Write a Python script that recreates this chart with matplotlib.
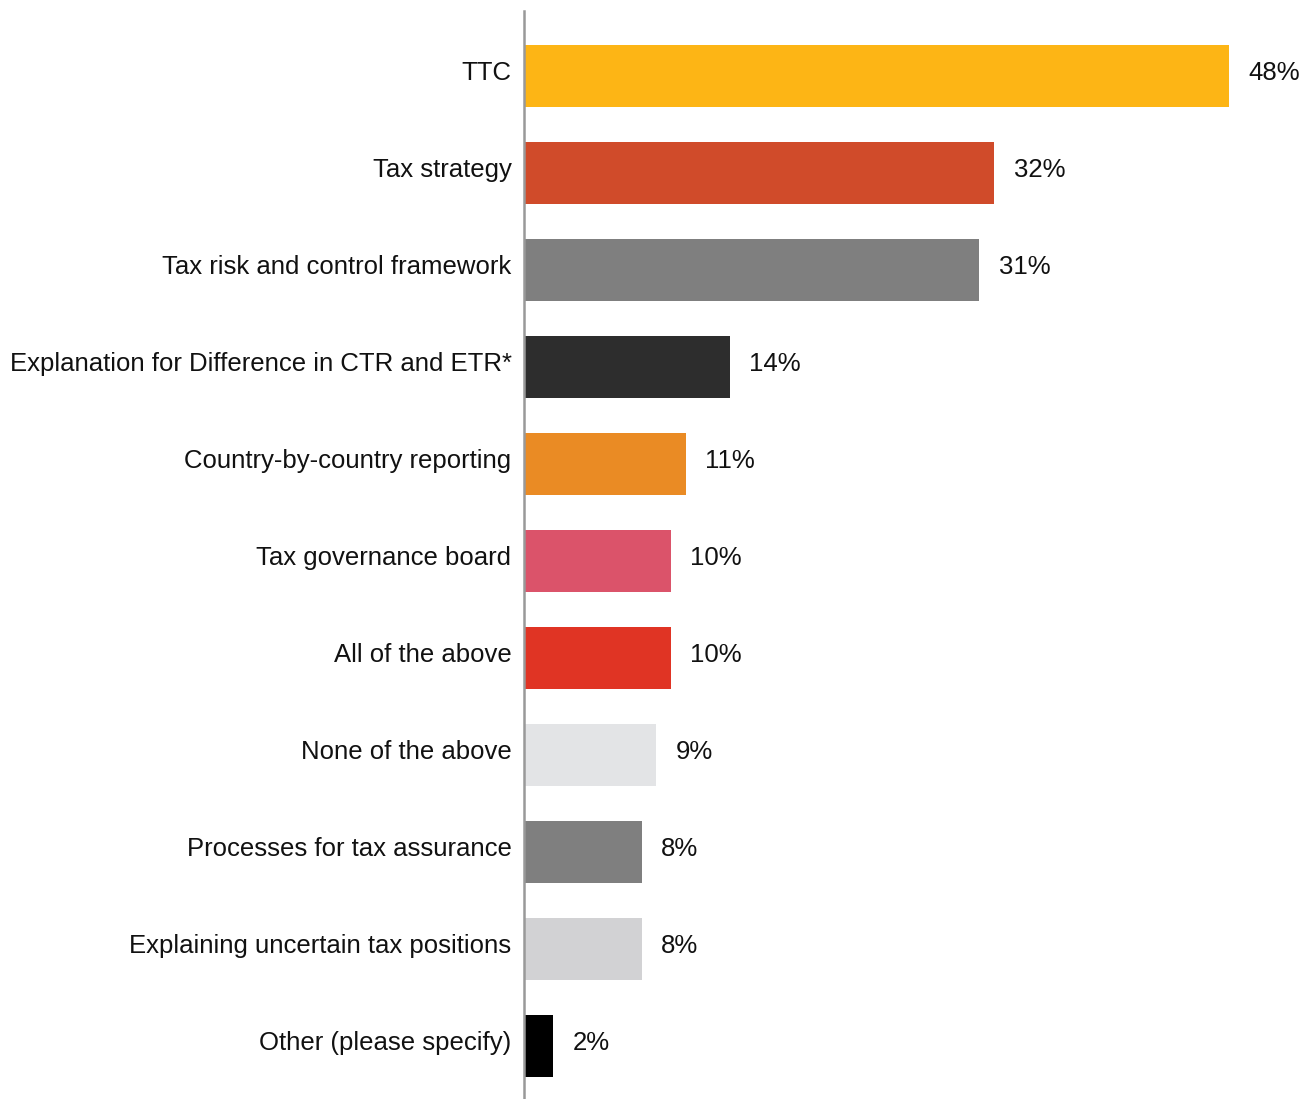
import matplotlib.pyplot as plt

categories = [
    "TTC",
    "Tax strategy",
    "Tax risk and control framework",
    "Explanation for Difference in CTR and ETR*",
    "Country-by-country reporting",
    "Tax governance board",
    "All of the above",
    "None of the above",
    "Processes for tax assurance",
    "Explaining uncertain tax positions",
    "Other (please specify)",
]
values = [48, 32, 31, 14, 11, 10, 10, 9, 8, 8, 2]
colors = [
    "#FDB515", "#D04B2A", "#7F7F7F", "#2D2D2D", "#EA8B24", "#DB536A",
    "#E03424", "#E3E4E6", "#7F7F7F", "#D2D2D4", "#000000",
]

plt.rcParams["font.family"] = ["Liberation Sans", "DejaVu Sans"]

fig = plt.figure(figsize=(13.16, 10.99), dpi=100)
# axes spans from the vertical baseline to the right edge of the longest bar
ax = fig.add_axes([524 / 1316, 0, 734.5 / 1316, 1088 / 1099])

y = list(range(len(categories)))
ax.barh(y, values, height=0.64, color=colors)

ax.set_xlim(0, 50)
ax.set_ylim(10.55, -0.67)

for yi, (cat, v) in enumerate(zip(categories, values)):
    ax.annotate(f"{v}%", (v, yi), xytext=(14, 2), textcoords="offset points",
                va="center", ha="left", fontsize=18.5, color="#111111")
    ax.annotate(cat, (0, yi), xytext=(-9, 2), textcoords="offset points",
                va="center", ha="right", fontsize=18.5, color="#111111")

for side in ["top", "right", "bottom"]:
    ax.spines[side].set_visible(False)
ax.spines["left"].set_color("#999999")
ax.spines["left"].set_linewidth(1.8)
ax.set_xticks([])
ax.set_yticks([])

fig.savefig("out.png", dpi=100)
